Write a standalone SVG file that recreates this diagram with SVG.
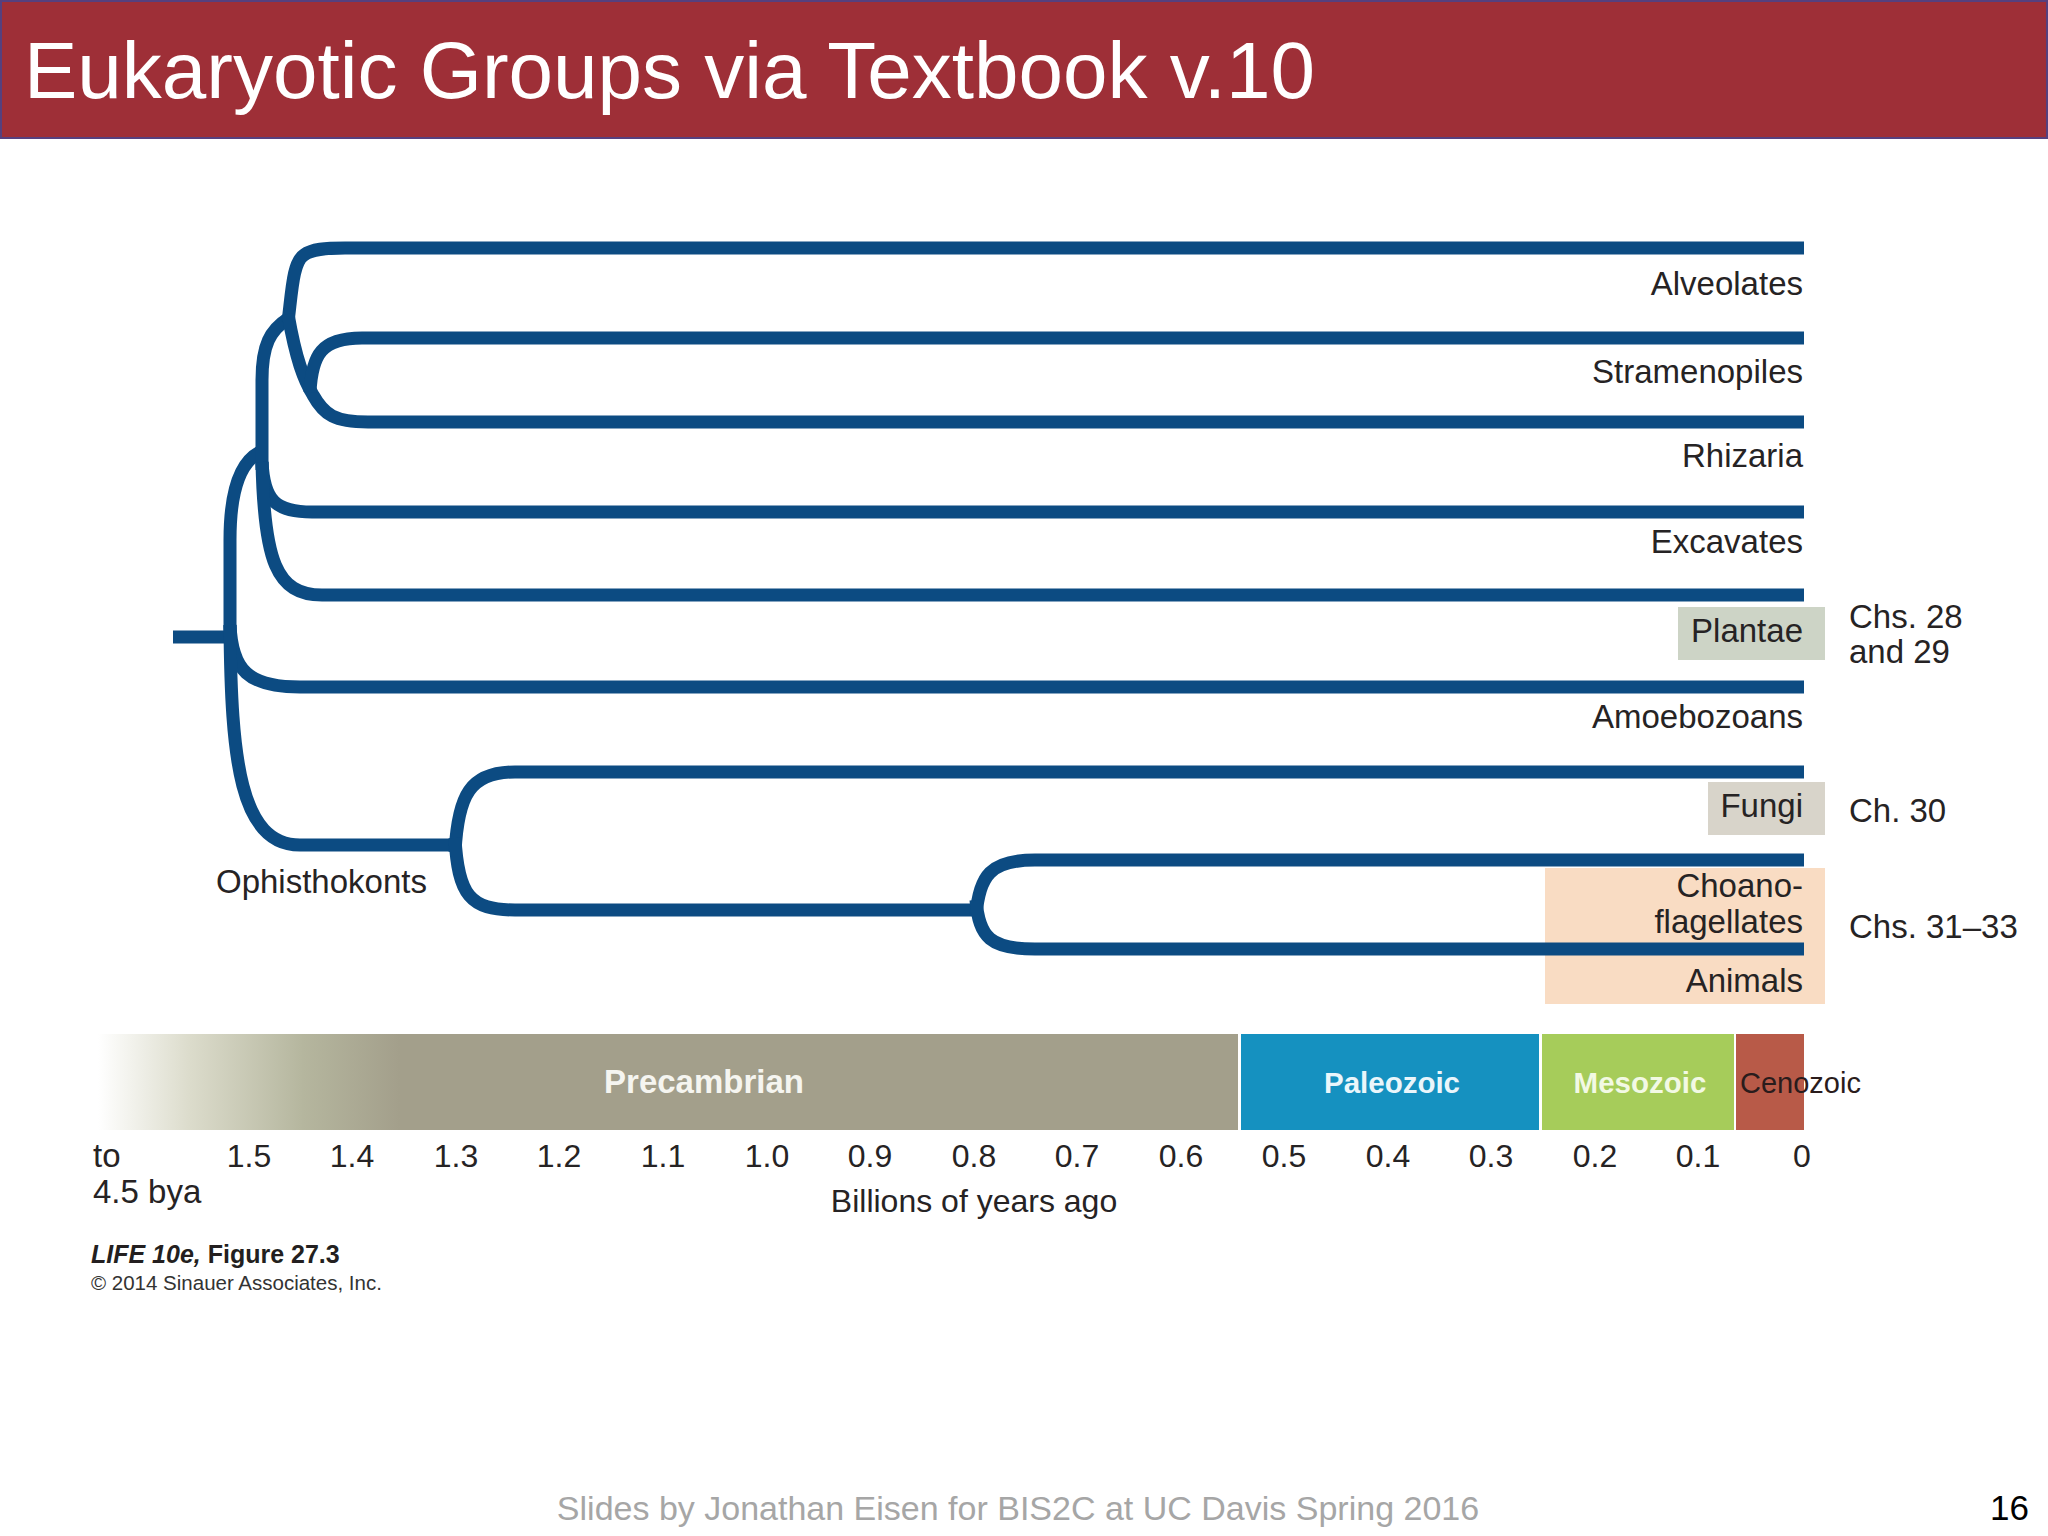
<svg xmlns="http://www.w3.org/2000/svg" width="2048" height="1536" viewBox="0 0 2048 1536">
<defs>
<linearGradient id="pre" gradientUnits="userSpaceOnUse" x1="98" y1="0" x2="400" y2="0">
<stop offset="0" stop-color="#ffffff"/>
<stop offset="0.3" stop-color="#dcdccc"/>
<stop offset="0.68" stop-color="#b5b69e"/>
<stop offset="1" stop-color="#a39f8b"/>
</linearGradient>
<style>
.br{fill:none;stroke:#0c4b82;stroke-width:13;stroke-linecap:butt;stroke-linejoin:round}
.lbl{font-family:"Liberation Sans",Arial,sans-serif;font-size:33px;fill:#262324}
.end{text-anchor:end}
.ax{font-family:"Liberation Sans",Arial,sans-serif;font-size:32px;fill:#262324;text-anchor:middle}
.era{font-family:"Liberation Sans",Arial,sans-serif;font-weight:bold;text-anchor:middle}
</style>
</defs>
<rect width="2048" height="1536" fill="#ffffff"/>
<g id="title">
<rect x="1" y="1" width="2046" height="137" fill="#9e2f37" stroke="#56407e" stroke-width="2"/>
<text x="24" y="98" font-family="Liberation Sans,Arial,sans-serif" font-size="80" fill="#ffffff">Eukaryotic Groups via Textbook v.10</text>
</g>
<g id="boxes">
<rect id="box-plantae" x="1678" y="607" width="147" height="53" fill="#cdd4c6"/>
<rect id="box-fungi" x="1708" y="782" width="117" height="53" fill="#d8d4ca"/>
<rect id="box-animals" x="1545" y="868" width="280" height="136" fill="#f9dcc3"/>
</g>
<g id="connectors">
<path class="br" d="M173 637 H231"/>
<path class="br" d="M260 452 C240 462 230 490 230 540 V640"/>
<path class="br" d="M230 625 C232 670 248 687 300 687 H1804"/>
<path class="br" d="M230 625 C231 760 240 845 300 845 H457"/>
<path class="br" d="M289 318 C270 330 262 345 262 380 V470"/>
<path class="br" d="M262 462 C264 500 275 512 312 512 H1804"/>
<path class="br" d="M262 462 C264 560 276 595 322 595 H1804"/>
<path class="br" d="M288 322 C292 290 293 262 304 255 C312 249 325 248 345 248 H1804"/>
<path class="br" d="M288 314 C296 360 304 380 313 395 C324 415 335 422 368 422 H1804"/>
<path class="br" d="M310 392 C312 355 321 338 362 338 H1804"/>
<path class="br" d="M455 852 C458 795 470 772 515 772 H1804"/>
<path class="br" d="M455 838 C458 895 470 910 515 910 H977"/>
<path class="br" d="M976 916 C979 875 991 860 1035 860 H1804"/>
<path class="br" d="M976 900 C979 938 991 949 1035 949 H1804"/>
</g>
<g id="labels">
<text class="lbl end" x="1803" y="295">Alveolates</text>
<text class="lbl end" x="1803" y="383">Stramenopiles</text>
<text class="lbl end" x="1803" y="467">Rhizaria</text>
<text class="lbl end" x="1803" y="553">Excavates</text>
<text class="lbl end" x="1803" y="642">Plantae</text>
<text class="lbl end" x="1803" y="728">Amoebozoans</text>
<text class="lbl end" x="1803" y="817">Fungi</text>
<text class="lbl end" x="1803" y="897">Choano-</text>
<text class="lbl end" x="1803" y="933">flagellates</text>
<text class="lbl end" x="1803" y="992">Animals</text>
<text class="lbl" x="216" y="893">Ophisthokonts</text>
<text class="lbl" x="1849" y="628">Chs. 28</text>
<text class="lbl" x="1849" y="663">and 29</text>
<text class="lbl" x="1849" y="822">Ch. 30</text>
<text class="lbl" x="1849" y="938">Chs. 31–33</text>
</g>
<g id="timescale">
<rect x="98" y="1034" width="1140" height="96" fill="url(#pre)"/>
<rect x="1241" y="1034" width="298" height="96" fill="#1591c0"/>
<rect x="1542" y="1034" width="192" height="96" fill="#a6cc5a"/>
<rect x="1736" y="1034" width="68" height="96" fill="#b85a48"/>
<text class="era" x="704" y="1093" font-size="33" fill="#f5f5f0">Precambrian</text>
<text class="era" x="1392" y="1093" font-size="29.5" fill="#eaf6fb">Paleozoic</text>
<text class="era" x="1640" y="1093" font-size="29.5" fill="#f2f9e4">Mesozoic</text>
<text x="1740" y="1093" font-family="Liberation Sans,Arial,sans-serif" font-size="29" fill="#2a1c1c">Cenozoic</text>
</g>
<g id="axis">
<text class="lbl" x="93" y="1167" font-size="32">to</text>
<text class="lbl" x="93" y="1203" font-size="32">4.5 bya</text>
<text class="ax" x="249" y="1167">1.5</text>
<text class="ax" x="352" y="1167">1.4</text>
<text class="ax" x="456" y="1167">1.3</text>
<text class="ax" x="559" y="1167">1.2</text>
<text class="ax" x="663" y="1167">1.1</text>
<text class="ax" x="767" y="1167">1.0</text>
<text class="ax" x="870" y="1167">0.9</text>
<text class="ax" x="974" y="1167">0.8</text>
<text class="ax" x="1077" y="1167">0.7</text>
<text class="ax" x="1181" y="1167">0.6</text>
<text class="ax" x="1284" y="1167">0.5</text>
<text class="ax" x="1388" y="1167">0.4</text>
<text class="ax" x="1491" y="1167">0.3</text>
<text class="ax" x="1595" y="1167">0.2</text>
<text class="ax" x="1698" y="1167">0.1</text>
<text class="ax" x="1802" y="1167">0</text>
<text class="ax" x="974" y="1212" font-size="34">Billions of years ago</text>
</g>
<g id="caption">
<text x="91" y="1263" font-family="Liberation Sans,Arial,sans-serif" font-size="25" font-weight="bold" fill="#231f20"><tspan font-style="italic">LIFE 10e,</tspan> Figure 27.3</text>
<text x="91" y="1290" font-family="Liberation Sans,Arial,sans-serif" font-size="20.5" fill="#333333">© 2014 Sinauer Associates, Inc.</text>
</g>
<g id="footer">
<text x="1018" y="1520" font-family="Liberation Sans,Arial,sans-serif" font-size="34" fill="#a6a6a6" text-anchor="middle">Slides by Jonathan Eisen for BIS2C at UC Davis Spring 2016</text>
<text x="2029" y="1520" font-family="Liberation Sans,Arial,sans-serif" font-size="35" fill="#000000" text-anchor="end">16</text>
</g>
</svg>
